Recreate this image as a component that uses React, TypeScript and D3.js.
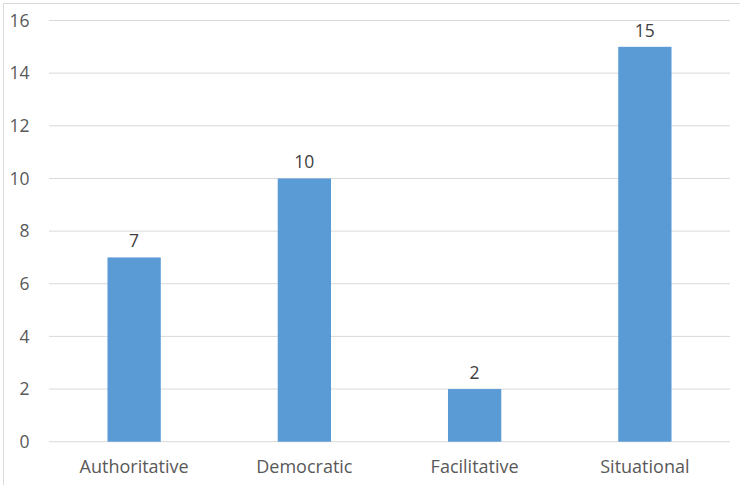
import React from "react";
import * as d3 from "d3";

const categories = ["Authoritative", "Democratic", "Facilitative", "Situational"];
const counts = [7, 10, 2, 15];
const yTicks = [0, 2, 4, 6, 8, 10, 12, 14, 16];

const W = 740;
const H = 485;
const margin = { top: 20.5, right: 10, bottom: 43.3, left: 49 };
const FONT = "'Open Sans', 'Noto Sans', sans-serif";
const TEXT = "#595959";

export default function App() {
  const x = d3
    .scaleBand<string>()
    .domain(categories)
    .range([margin.left, W - margin.right])
    .paddingInner(0.687)
    .paddingOuter(0.3435);
  const y = d3
    .scaleLinear()
    .domain([0, 16])
    .range([H - margin.bottom, margin.top]);

  return (
    <svg
      width={W}
      height={H}
      style={{ position: "absolute", left: 0, top: 0, background: "#fff" }}
    >
      {/* chart area outline */}
      <rect x={3.5} y={3.5} width={W + 10} height={H + 10} fill="none" stroke="#d9d9d9" />
      {yTicks.map((t) => (
        <g key={t}>
          <line
            x1={margin.left}
            x2={W - margin.right}
            y1={y(t)}
            y2={y(t)}
            stroke="#d9d9d9"
            strokeWidth={1}
          />
          <text
            x={29.5}
            y={y(t) + 6.3}
            textAnchor="end"
            fontFamily={FONT}
            fontSize={17.5}
            fill={TEXT}
          >
            {t}
          </text>
        </g>
      ))}
      {categories.map((c, i) => (
        <g key={c}>
          <rect
            x={x(c)!}
            y={y(counts[i])}
            width={x.bandwidth()}
            height={y(0) - y(counts[i])}
            fill="#5b9bd5"
          />
          <text
            x={x(c)! + x.bandwidth() / 2}
            y={y(counts[i]) - 10.3}
            textAnchor="middle"
            fontFamily={FONT}
            fontSize={17.5}
            fill="#404040"
          >
            {counts[i]}
          </text>
          <text
            x={x(c)! + x.bandwidth() / 2}
            y={473.3}
            textAnchor="middle"
            fontFamily={FONT}
            fontSize={18}
            fill={TEXT}
          >
            {c}
          </text>
        </g>
      ))}
    </svg>
  );
}
